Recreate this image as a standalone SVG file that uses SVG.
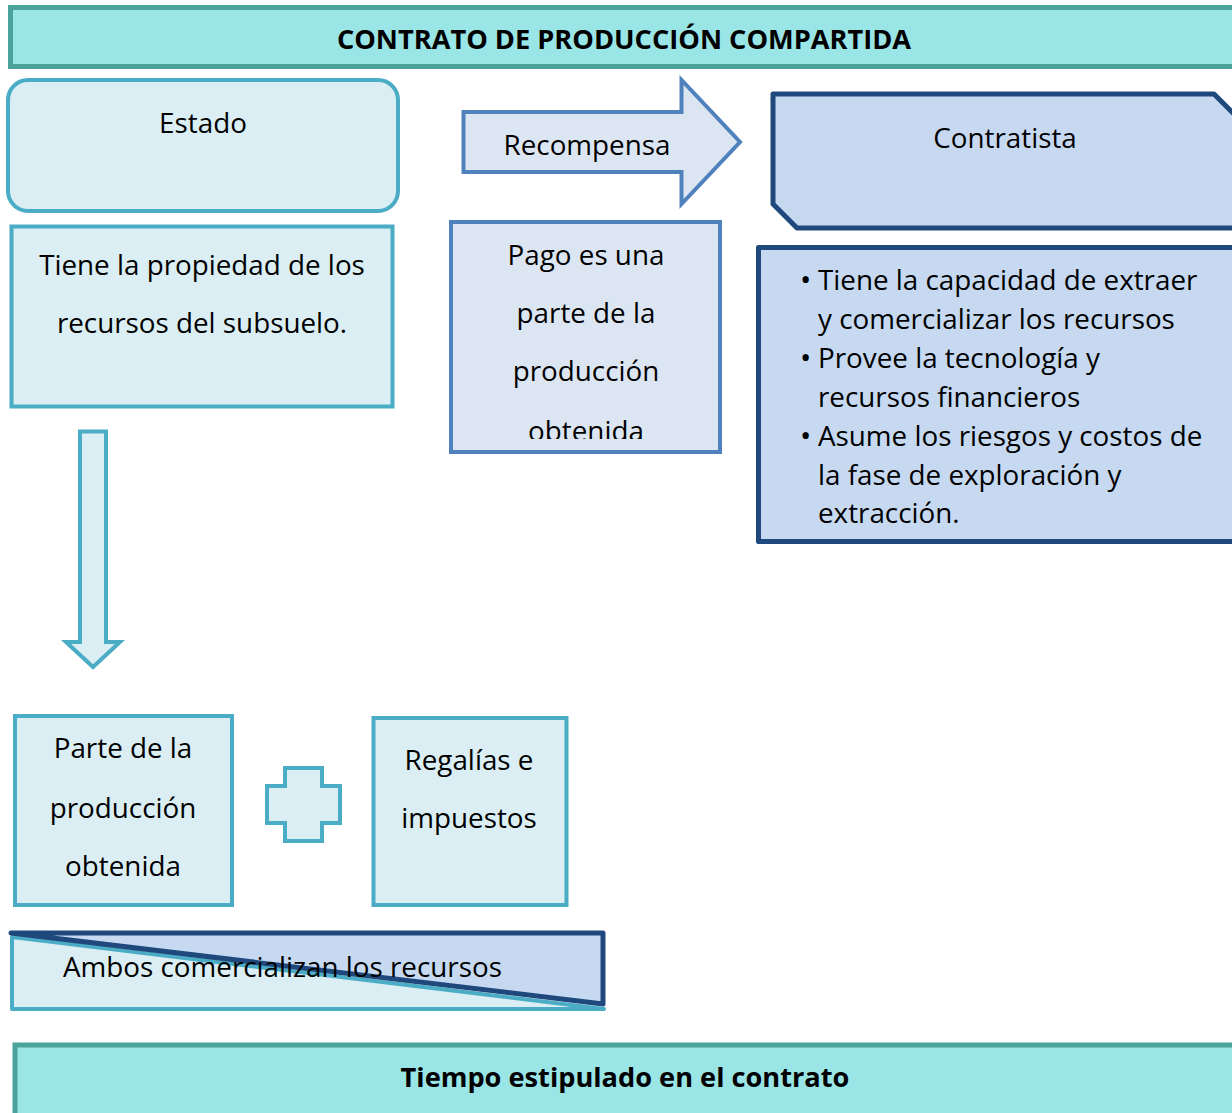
<svg xmlns="http://www.w3.org/2000/svg" width="1232" height="1113" viewBox="0 0 1232 1113">
<style>
text{font-family:"Open Sans","Liberation Sans",sans-serif;font-size:27.8px;fill:#000}
.b{font-weight:bold;font-size:27.2px}
.c{text-anchor:middle}
.bar{fill:#9ae5e6;stroke:#4ba39b;stroke-width:5}
.lt{fill:#daeef3;stroke:#4bacc6;stroke-width:4}
.md{fill:#dce6f2;stroke:#4f81bd;stroke-width:4}
.dk{fill:#c6d9f1;stroke:#1f497d;stroke-width:5;stroke-linejoin:round}
.bul{font-size:30px}
</style>
<defs>
<clipPath id="pagoClip"><rect x="453" y="224" width="265" height="215"/></clipPath>
</defs>
<rect width="1232" height="1113" fill="#fff"/>
<g id="titulo">
<rect class="bar" x="10.5" y="7.5" width="1240" height="59"/>
<text class="b c" x="624" y="49">CONTRATO DE PRODUCCIÓN COMPARTIDA</text>
</g>
<g id="estado">
<rect class="lt" x="8" y="80" width="390" height="131" rx="20"/>
<text class="c" x="203" y="133">Estado</text>
</g>
<g id="estado-desc">
<rect class="lt" x="11.5" y="226.5" width="381" height="180"/>
<text class="c" x="202" y="275">Tiene la propiedad de los</text>
<text class="c" x="202" y="333">recursos del subsuelo.</text>
</g>
<g id="recompensa">
<polygon class="md" points="463.5,112 681.5,112 681.5,80 740,142 681.5,204 681.5,172 463.5,172"/>
<text class="c" x="587" y="155">Recompensa</text>
</g>
<g id="pago">
<rect class="md" x="451" y="222" width="269" height="230"/>
<g clip-path="url(#pagoClip)">
<text class="c" x="586" y="265">Pago es una</text>
<text class="c" x="586" y="323">parte de la</text>
<text class="c" x="586" y="381">producción</text>
<text class="c" x="586" y="441">obtenida</text>
</g>
</g>
<g id="contratista">
<polygon class="dk" points="773,94 1214,94 1240,120 1240,228 797,228 773,204"/>
<text class="c" x="1005" y="148">Contratista</text>
</g>
<g id="contratista-desc">
<rect class="dk" x="758.5" y="247.5" width="490" height="294" stroke-linejoin="miter"/>
<text class="bul" x="800" y="290">•</text><text x="818" y="290">Tiene la capacidad de extraer</text>
<text x="818" y="329">y comercializar los recursos</text>
<text class="bul" x="800" y="368">•</text><text x="818" y="368">Provee la tecnología y</text>
<text x="818" y="407">recursos financieros</text>
<text class="bul" x="800" y="446">•</text><text x="818" y="446">Asume los riesgos y costos de</text>
<text x="818" y="485">la fase de exploración y</text>
<text x="818" y="523">extracción.</text>
</g>
<g id="conectores">
<polygon class="lt" points="80,431.5 106,431.5 106,642 120,642 93,667 66,642 80,642"/>
<polygon class="lt" points="285,768 322,768 322,786 340,786 340,823 322,823 322,841 285,841 285,823 267,823 267,786 285,786"/>
</g>
<g id="parte">
<rect class="lt" x="15" y="716" width="217" height="189"/>
<text class="c" x="123" y="758">Parte de la</text>
<text class="c" x="123" y="818">producción</text>
<text class="c" x="123" y="876">obtenida</text>
</g>
<g id="regalias">
<rect class="lt" x="373.5" y="718" width="193" height="187"/>
<text class="c" x="469" y="770">Regalías e</text>
<text class="c" x="469" y="828">impuestos</text>
</g>
<g id="ambos">
<polygon class="lt" points="12,937 604,1009 12,1009" stroke-linejoin="round"/>
<polygon class="dk" points="11,933 603,933 603,1004"/>
<text x="63" y="977">Ambos comercializan los recursos</text>
</g>
<g id="tiempo">
<rect class="bar" x="15" y="1045" width="1240" height="80"/>
<text class="b c" x="625" y="1087">Tiempo estipulado en el contrato</text>
</g>
</svg>
